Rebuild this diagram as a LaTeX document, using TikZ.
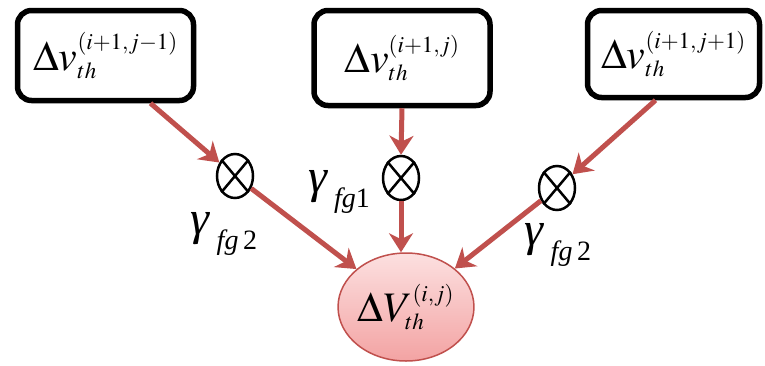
\documentclass[tikz,border=0pt]{standalone}
\usepackage{mathptmx}
\usepackage[no-math]{fontspec}
\setmainfont{Liberation Serif}
\usepackage{tikz}
\usetikzlibrary{arrows.meta,positioning,shapes.geometric,calc}
\definecolor{arrowred}{HTML}{C0504D}
\definecolor{sumtop}{HTML}{FCE0E0}
\definecolor{sumbot}{HTML}{F3A3A3}
\DeclareMathSizes{42}{42}{23}{18}
\newcommand{\gainlabel}[1]{{\fontsize{48}{50}\selectfont\itshape γ}\hspace{7pt}\raisebox{-15pt}{\fontsize{28}{30}\selectfont #1}}

\begin{document}
\begin{tikzpicture}[
    x=1pt,y=-1pt,
    inbox/.style={draw=black,line width=5.5pt,rounded corners=14pt,minimum width=176pt,minimum height=90pt,inner sep=0pt,font=\fontsize{42}{46}\selectfont},
    mult/.style={draw=black,ellipse,line width=2.5pt,minimum width=36pt,minimum height=44pt,inner sep=0pt},
    sum/.style={draw=arrowred,ellipse,line width=1.5pt,minimum width=126pt,minimum height=108pt,top color=sumtop,bottom color=sumbot,inner sep=0pt,font=\fontsize{42}{46}\selectfont},
    gain/.style={inner sep=0pt},
    flow/.style={draw=arrowred,line width=5pt,-{Stealth[length=19pt,width=24pt,inset=6pt]}}
]
\useasboundingbox (0,0) rectangle (765,365);

\node[inbox] (vl) at (105.5,55.5) {$\Delta v^{(i+1,j-1)}_{th}$};
\node[inbox,minimum height=95pt] (vm) at (402,58) {$\Delta v^{(i+1,j)}_{th}$};
\node[inbox,minimum width=172pt,minimum height=87pt] (vr) at (673.5,54) {$\Delta v^{(i+1,j+1)}_{th}$};

\node[mult] (ml) at (235,176) {};
\node[mult] (mm) at (401,178) {};
\node[mult] (mr) at (557,188) {};
\foreach \m in {ml,mm,mr}{
  \draw[line width=2.5pt] (\m.50) -- (\m.230);
  \draw[line width=2.5pt] (\m.130) -- (\m.310);
}

\node[sum] (res) at (406,307) {$\Delta V^{(i,j)}_{th}$};

\node[gain] (gl) at (224,234) {\gainlabel{\textit{fg}\,2}};
\node[gain] (gm) at (339,192) {\gainlabel{\textit{fg}1}};
\node[gain] (gr) at (558,245) {\gainlabel{\textit{fg}\,2}};

\draw[flow] ([xshift=45pt]vl.south) -- (ml);
\draw[flow] (vm.south) -- (mm.north);
\draw[flow] ([xshift=-18pt]vr.south) -- (mr);
\draw[flow] (ml) -- (res);
\draw[flow] (mm.south) -- (mm.south |- res.north);
\draw[flow] (mr) -- (res);
\end{tikzpicture}
\end{document}
